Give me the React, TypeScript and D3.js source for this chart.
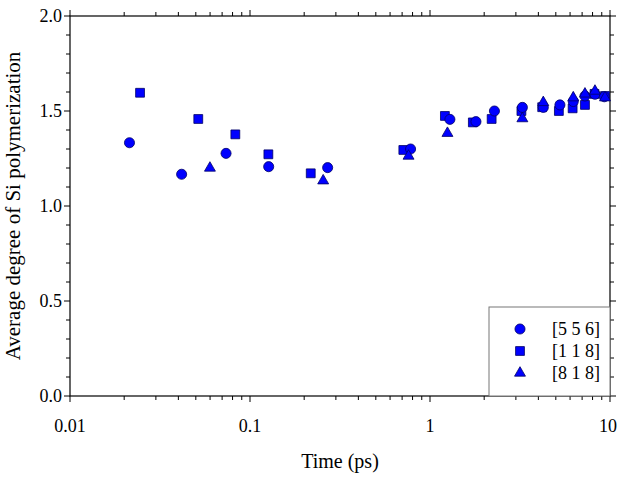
import React from 'react';
import { scaleLog, scaleLinear, symbol, symbolCircle, symbolSquare, symbolTriangle, range } from 'd3';

const width = 617;
const height = 478;
const margin = { top: 16, right: 7, bottom: 82, left: 70 };

// [5 5 6]
const timeA = [0.0214, 0.0417, 0.0736, 0.127, 0.27, 0.78, 1.29, 1.8, 2.28, 3.26, 4.26, 5.27, 6.25, 7.26, 8.25, 9.3];
const degA = [1.333, 1.167, 1.277, 1.207, 1.202, 1.3, 1.456, 1.444, 1.5, 1.519, 1.519, 1.532, 1.55, 1.579, 1.588, 1.575];
// [1 1 8]
const timeB = [0.0245, 0.0516, 0.0829, 0.1265, 0.2175, 0.711, 1.21, 1.73, 2.2, 3.22, 4.2, 5.2, 6.2, 7.26, 8.2, 9.38];
const degB = [1.596, 1.458, 1.377, 1.272, 1.172, 1.295, 1.474, 1.44, 1.458, 1.5, 1.52, 1.5, 1.514, 1.532, 1.59, 1.579];
// [8 1 8]
const timeC = [0.0599, 0.255, 0.76, 1.25, 3.26, 4.26, 6.25, 7.26, 8.25, 9.38];
const degC = [1.2, 1.133, 1.263, 1.383, 1.46, 1.545, 1.57, 1.59, 1.605, 1.57];

const xTickLabels = ['0.01', '0.1', '1', '10'];
const yTickLabels = ['0.0', '0.5', '1.0', '1.5', '2.0'];
const seriesNames = ['[5 5 6]', '[1 1 8]', '[8 1 8]'];

const serif = { fontFamily: "'Liberation Serif', 'Times New Roman', serif" };

export default function App() {
  const x = scaleLog().domain([0.01, 10]).range([margin.left, width - margin.right]);
  const y = scaleLinear().domain([0, 2]).range([height - margin.bottom, margin.top]);
  const x0 = x.range()[0], x1 = x.range()[1];
  const y0 = y.range()[0], y1 = y.range()[1];

  const circle = symbol().type(symbolCircle).size(80)();
  const square = symbol().type(symbolSquare).size(78)();
  const tri = symbol().type(symbolTriangle).size(52)();
  const shapes = [circle, square, tri];

  const series = [
    { t: timeB, v: degB, path: square },
    { t: timeA, v: degA, path: circle },
    { t: timeC, v: degC, path: tri },
  ];

  const isMajorX = (t: number) => xTickLabels.includes(String(+t.toPrecision(3)));
  const yMinor = range(0, 2.01, 0.1).map((d) => +d.toFixed(1));

  return (
    <svg width={width} height={height} style={{ position: 'absolute', left: 0, top: 0 }}>
      <rect x={0} y={0} width={width} height={height} fill="#fff" />
      {/* x ticks, bottom and top */}
      {x.ticks().map((t, i) => {
        const len = isMajorX(t) ? 6 : 4;
        return (
          <g key={'xt' + i} stroke="#000" strokeWidth={1}>
            <line x1={x(t)} x2={x(t)} y1={y0} y2={y0 + len} />
            <line x1={x(t)} x2={x(t)} y1={y1} y2={y1 - len} />
          </g>
        );
      })}
      {yMinor.map((v, i) => {
        const major = Math.abs(v * 2 - Math.round(v * 2)) < 1e-6;
        const len = major ? 6 : 4;
        return (
          <g key={'yt' + i} stroke="#000" strokeWidth={1}>
            <line x1={x0} x2={x0 - len} y1={y(v)} y2={y(v)} />
            <line x1={x1} x2={x1 + len} y1={y(v)} y2={y(v)} />
          </g>
        );
      })}
      <rect x={x0} y={y1} width={x1 - x0} height={y0 - y1} fill="none" stroke="#000" strokeWidth={1.2} />
      {xTickLabels.map((l, i) => (
        // last label pulled in a little so it stays inside the window
        <text key={l} x={x(+l) - (i === xTickLabels.length - 1 ? 2 : 0)} y={y0 + 36} textAnchor="middle" style={serif} fontSize={18}>{l}</text>
      ))}
      {yTickLabels.map((l) => (
        <text key={l} x={x0 - 8} y={y(+l) + 6} textAnchor="end" style={serif} fontSize={18}>{l}</text>
      ))}
      <text x={340} y={468} textAnchor="middle" style={serif} fontSize={20}>Time (ps)</text>
      <text transform={`translate(20,${(y0 + y1) / 2}) rotate(-90)`} textAnchor="middle" style={serif} fontSize={21}>
        Average degree of Si polymerization
      </text>
      {/* points */}
      {series.map((s, si) => (
        <g key={'s' + si}>
          {s.t.map((t, i) => (
            <path key={i} d={s.path as string} transform={`translate(${x(t)},${y(s.v[i])})`} fill="#0000ff" stroke="#000066" strokeWidth={0.8} />
          ))}
        </g>
      ))}
      {/* legend */}
      <g>
        <rect x={489} y={307} width={x1 - 489} height={y0 - 307} fill="#fff" stroke="#777" strokeWidth={1} />
        {seriesNames.map((n, i) => (
          <g key={n} transform={`translate(0,${329 + i * 22})`}>
            <path d={shapes[i] as string} transform="translate(520,0)" fill="#0000ff" stroke="#000066" strokeWidth={0.8} />
            <text x={552} y={6} style={serif} fontSize={18}>{n}</text>
          </g>
        ))}
      </g>
    </svg>
  );
}
